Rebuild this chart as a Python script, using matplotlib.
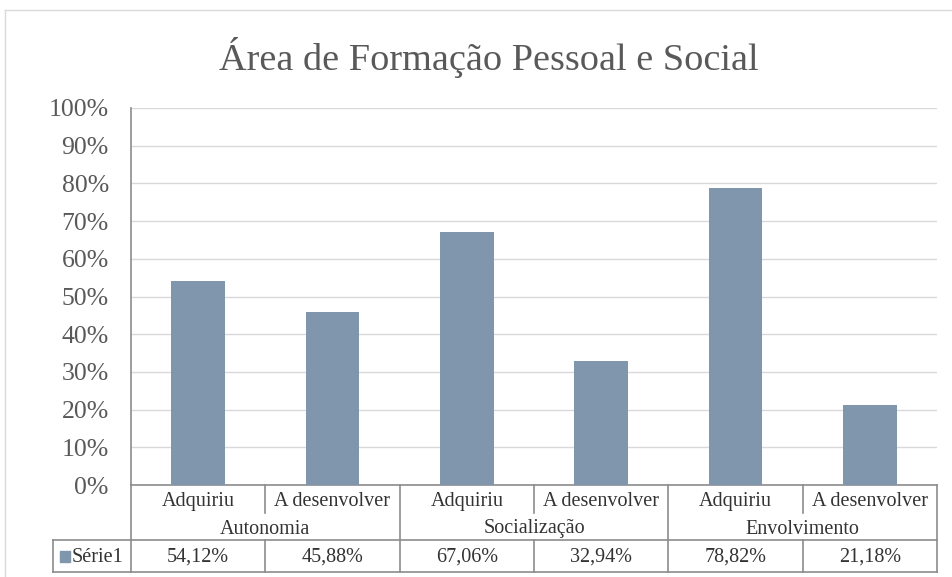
import matplotlib
matplotlib.use("Agg")
import matplotlib.pyplot as plt
from matplotlib.transforms import blended_transform_factory
from matplotlib.patches import Rectangle

title = "Área de Formação Pessoal e Social"
groups = ["Autonomia", "Socialização", "Envolvimento"]
subcats = ["Adquiriu", "A desenvolver"]
values = [54.12, 45.88, 67.06, 32.94, 78.82, 21.18]
value_labels = ["54,12%", "45,88%", "67,06%", "32,94%", "78,82%", "21,18%"]
series_name = "Série1"
yticks = [0, 10, 20, 30, 40, 50, 60, 70, 80, 90, 100]

bar_color = "#7F96AD"
line_col = "#8C8C8C"
text_col = "#333333"
FONT = ["Liberation Serif", "DejaVu Serif"]

W, H = 952, 577
fig = plt.figure(figsize=(W / 100, H / 100), dpi=100)

# outer chart border
fig.add_artist(plt.Line2D([5 / W, 5 / W], [0, 1 - 10 / H], color="#D9D9D9", lw=1, transform=fig.transFigure))
fig.add_artist(plt.Line2D([5 / W, 1], [1 - 10 / H, 1 - 10 / H], color="#D9D9D9", lw=1, transform=fig.transFigure))

ax = fig.add_axes([131 / W, 92 / H, 806 / W, 377 / H])
x = list(range(len(values)))
ax.bar(x, values, width=0.4, color=bar_color, zorder=3)
ax.set_xlim(-0.5, len(values) - 0.5)
ax.set_ylim(0, 100)
ax.set_yticks(yticks)
ax.set_yticklabels([f"{t}%" for t in yticks], fontfamily=FONT, fontsize=18.5, color="#595959")
ax.tick_params(axis="y", length=0, pad=16)
ax.set_xticks([])
ax.grid(axis="y", color="#D9D9D9", lw=1, zorder=0)
for s in ["top", "right", "bottom"]:
    ax.spines[s].set_visible(False)
ax.spines["left"].set_color(line_col)
ax.spines["left"].set_linewidth(1.2)

tr = blended_transform_factory(ax.transData, ax.transAxes)
px = 1 / 377.0
r0, r1, r2, r3 = 0.0, -28 * px, -55 * px, -87 * px
lk = dict(color=line_col, lw=1.2, transform=tr, clip_on=False)

def hline(x0, x1, y):
    ax.add_line(plt.Line2D([x0, x1], [y, y], **lk))

def vline(xx, y0, y1):
    ax.add_line(plt.Line2D([xx, xx], [y0, y1], **lk))

n = len(values)
hline(-0.5, n - 0.5, r0)
hline(-0.5, n - 0.5, r2)
hline(-0.5, n - 0.5, r3)
# Série1 cell
left_px = (131 - 53)
lx = -0.5 - left_px / (806 / n)
hline(lx, -0.5, r2)
hline(lx, -0.5, r3)
vline(lx, r2, r3)
vline(-0.5, r0, r3)
vline(n - 0.5, r0, r3)
for i in range(1, n):
    xb = i - 0.5
    if i % 2 == 0:
        vline(xb, r0, r3)
    else:
        vline(xb, r0, r1)
        vline(xb, r2, r3)

tk = dict(transform=tr, ha="center", va="center", fontfamily=FONT, fontsize=14.5, color=text_col, clip_on=False)
for i in range(n):
    ax.text(i, (r0 + r1) / 2 - 2.5 * px, subcats[i % 2], **tk)
    ax.text(i, (r2 + r3) / 2 - 1 * px, value_labels[i], **tk)
for g, name in enumerate(groups):
    ax.text(2 * g + 0.5, (r1 + r2) / 2 - 2.5 * px, name, **tk)

# legend key in table
ax.add_patch(Rectangle((lx + 0.05, (r2 + r3) / 2 - 5.5 * px), 0.08, 11 * px, transform=tr,
                       color=bar_color, clip_on=False))
ax.text(lx + 0.135, (r2 + r3) / 2 - 1 * px, series_name, transform=tr, ha="left", va="center",
        fontfamily=FONT, fontsize=14.5, color=text_col, clip_on=False)

fig.text(489 / W, 1 - 57 / H, title, ha="center", va="center", fontfamily=FONT,
         fontsize=27.5, color="#595959")

fig.savefig("out.png", dpi=100)
